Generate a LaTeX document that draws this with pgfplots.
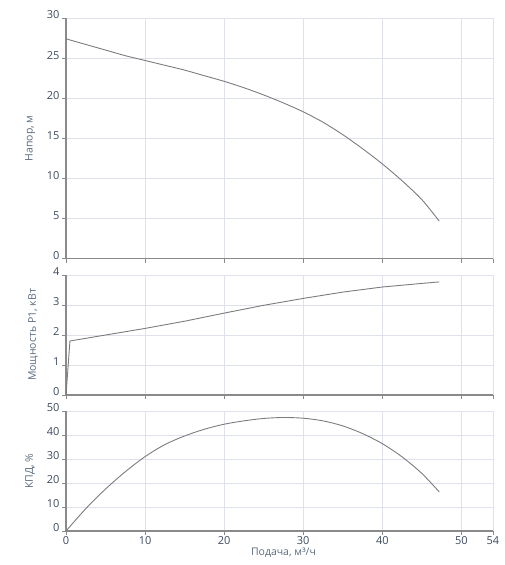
\documentclass[border=0pt]{standalone}
\usepackage{pgfplots}
\pgfplotsset{compat=1.18}
\usepackage{fontspec}
\setmainfont{Open Sans}
\definecolor{gridc}{HTML}{DFE2EA}
\definecolor{axisc}{HTML}{8A8A8A}
\definecolor{curvec}{HTML}{7C7C7C}
\definecolor{tickc}{HTML}{3D4B5E}
\definecolor{labc}{HTML}{5B6B7D}
\pgfplotsset{
  panel/.style={
    scale only axis, width=427pt,
    xmin=0, xmax=54, xtick={0,10,20,30,40,50,54},
    axis lines*=left, axis line style={axisc, line width=1.2pt},
    grid=major, major grid style={gridc, line width=0.8pt},
    tick align=outside, major tick length=4pt,
    tick style={axisc, line width=0.8pt},
    ticklabel style={font=\fontsize{11}{12}\selectfont, text=tickc},
    /pgf/number format/assume math mode=true,
    yticklabel style={yshift=3pt, xshift=1pt},
    ylabel style={font=\fontsize{10.5}{12}\selectfont, text=labc,
      at={(axis description cs:-0.084,0.5)}, anchor=center},
    clip=false,
  },
  curve/.style={curvec, line width=0.9pt, mark=none},
}
\begin{document}
\begin{tikzpicture}
\path[use as bounding box] (0,0) rectangle (505pt,-565pt);
\begin{axis}[panel, at={(66pt,-258.5pt)}, anchor=south west, height=240.5pt,
  ymin=0, ymax=30, ytick={0,5,...,30}, xticklabels={},
  ylabel={Напор, м}]
\addplot[curve, smooth] coordinates {
 (0,27.4) (2.5,26.7) (5,26.0) (7.5,25.3) (10,24.7) (12.5,24.1) (15,23.5)
 (17.5,22.8) (20,22.1) (22.5,21.3) (25,20.4) (27.5,19.4) (30,18.3)
 (32.5,17.0) (35,15.45) (37.5,13.7) (40,11.8) (42.5,9.7) (45,7.35) (47.2,4.66)};
\end{axis}
\begin{axis}[panel, at={(66pt,-395pt)}, anchor=south west, height=120pt,
  ymin=0, ymax=4, ytick={0,1,2,3,4}, xticklabels={},
  ylabel={Мощность P1, кВт}, ylabel style={at={(axis description cs:-0.077,0.5)}}]
\addplot[curve] coordinates {
 (0,0) (0.5,1.8) (5,2.0) (10,2.22) (15,2.46) (20,2.73) (25,2.99)
 (30,3.22) (35,3.43) (40,3.6) (45,3.72) (47.2,3.77)};
\end{axis}
\begin{axis}[panel, at={(66pt,-531pt)}, anchor=south west, height=120pt,
  ymin=0, ymax=50, ytick={0,10,...,50},
  xticklabel style={yshift=2pt},
  ylabel={КПД, \%},
  xlabel={Подача, м³/ч},
  xlabel style={font=\fontsize{10.5}{12}\selectfont, text=labc,
    at={(axis description cs:0.5,0)}, anchor=north, yshift=-13pt, xshift=4pt}]
\addplot[curve, smooth] coordinates {
 (0,0) (2.5,9.3) (5,17.5) (7.5,24.7) (10,31.0) (12.5,36.0) (15,39.6)
 (17.5,42.4) (20,44.5) (22.5,45.9) (25,46.9) (27.5,47.3) (30,47.0)
 (32.5,45.9) (35,43.8) (37.5,40.6) (40,36.4) (42.5,30.9) (45,24.0) (47.2,16.3)};
\end{axis}
\end{tikzpicture}
\end{document}
